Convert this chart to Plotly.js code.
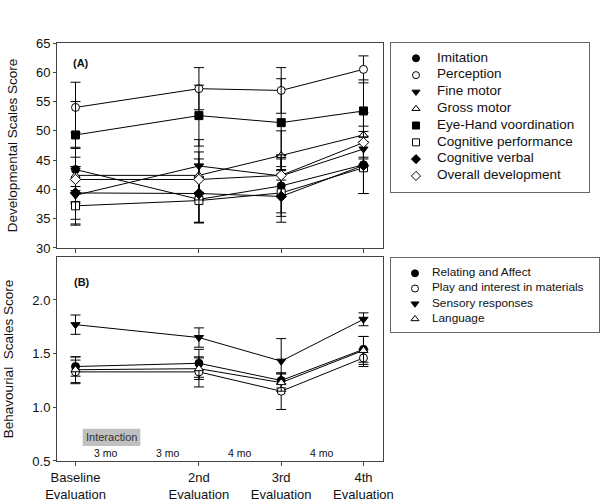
<!DOCTYPE html>
<html>
<head>
<meta charset="utf-8">
<script src="https://cdn.plot.ly/plotly-3.0.1.min.js"></script>
<style>
  html, body { margin: 0; padding: 0; background: #fff; }
  #chart { width: 600px; height: 502px; }
</style>
</head>
<body>
<div id="chart"></div>
<script>
// evaluation points, months since baseline
const months = [0, 6, 10, 14];
const evalLabels = ['Baseline<br>Evaluation', '2nd<br>Evaluation', '3rd<br>Evaluation', '4th<br>Evaluation'];

// (A) developmental scales, means and error
const devNames = ['Imitation', 'Perception', 'Fine motor', 'Gross motor',
  'Eye-Hand voordination', 'Cognitive performance', 'Cognitive verbal', 'Overall development'];
const imitation      = [43.4, 38.3, 40.6, 44.2];
const perception     = [54.0, 57.2, 56.9, 60.5];
const fineMotor      = [39.0, 44.0, 42.3, 46.9];
const grossMotor     = [42.4, 42.4, 45.8, 49.3];
const eyeHand        = [49.3, 52.6, 51.4, 53.4];
const cogPerformance = [37.2, 38.1, 39.4, 43.7];
const cogVerbal      = [39.4, 39.3, 38.8, 44.1];
const overallDev     = [41.7, 41.7, 42.4, 48.0];

const imitationErr      = [3.6, 3.9, 4.6, 4.9];
const perceptionErr     = [4.3, 3.6, 3.9, 2.3];
const fineMotorErr      = [4.9, 4.5, 3.5, 3.0];
const grossMotorErr     = [4.8, 4.0, 4.2, 3.8];
const eyeHandErr        = [5.7, 5.2, 7.5, 5.3];
const cogPerformanceErr = [3.3, 3.8, 4.0, 4.4];
const cogVerbalErr      = [4.5, 5.0, 4.4, 4.8];
const overallDevErr     = [3.8, 3.5, 3.5, 2.8];

// (B) behavioural scales
const behNames = ['Relating and Affect', 'Play and interest in materials', 'Sensory responses', 'Language'];
const relating = [1.38, 1.41, 1.25, 1.54];
const play     = [1.33, 1.33, 1.15, 1.46];
const sensory  = [1.77, 1.65, 1.43, 1.82];
const language = [1.35, 1.36, 1.23, 1.53];

const relatingErr = [0.09, 0.13, 0.07, 0.12];
const playErr     = [0.11, 0.14, 0.17, 0.08];
const sensoryErr  = [0.09, 0.09, 0.21, 0.06];
const languageErr = [0.12, 0.10, 0.08, 0.13];

// interval notes along the bottom axis
const intervalMid = [1.5, 4.5, 8, 12];
const intervalText = ['3 mo', '3 mo', '4 mo', '4 mo'];

const FONT = 'Liberation Sans, Arial, sans-serif';

// symbol + fill for each series
const devSymbols = ['circle', 'circle', 'triangle-down', 'triangle-up', 'square', 'square', 'diamond', 'diamond'];
const devFills   = ['black', 'white', 'black', 'white', 'black', 'white', 'black', 'white'];
const behSymbols = ['circle', 'circle', 'triangle-down', 'triangle-up'];
const behFills   = ['black', 'white', 'black', 'white'];

function series(y, err, sym, fill, xa, ya) {
  return {
    x: months, y: y,
    xaxis: xa, yaxis: ya,
    mode: 'lines+markers', type: 'scatter',
    line: {color: 'black', width: 1},
    marker: {symbol: sym, color: fill, size: 8, line: {color: 'black', width: 1}},
    error_y: {type: 'data', array: err, visible: true, color: 'black', thickness: 1, width: 5}
  };
}

// legend boxes are small hidden axes: one marker column + one text column
function legendTraces(names, syms, fills, xa, ya, symX, textX, fontSize) {
  const rows = names.map((_, i) => i);
  return [
    {x: rows.map(() => symX), y: rows, xaxis: xa, yaxis: ya, mode: 'markers', type: 'scatter',
     marker: {symbol: syms, color: fills, size: 7, line: {color: 'black', width: 1}}},
    {x: rows.map(() => textX), y: rows, xaxis: xa, yaxis: ya, mode: 'text', type: 'scatter',
     text: names, textposition: 'middle right',
     textfont: {family: FONT, size: fontSize, color: '#111'}}
  ];
}

const devY = [imitation, perception, fineMotor, grossMotor, eyeHand, cogPerformance, cogVerbal, overallDev];
const devE = [imitationErr, perceptionErr, fineMotorErr, grossMotorErr, eyeHandErr, cogPerformanceErr, cogVerbalErr, overallDevErr];
const behY = [relating, play, sensory, language];
const behE = [relatingErr, playErr, sensoryErr, languageErr];

let data = [];
devY.forEach((y, i) => data.push(series(y, devE[i], devSymbols[i], devFills[i], 'x2', 'y2')));
behY.forEach((y, i) => data.push(series(y, behE[i], behSymbols[i], behFills[i], 'x', 'y')));
data = data.concat(legendTraces(devNames, devSymbols, devFills, 'x3', 'y3', 25, 46, 13.5));
data = data.concat(legendTraces(behNames, behSymbols, behFills, 'x4', 'y4', 24, 41, 11.8));

const axisCommon = {
  showline: true, mirror: true, linecolor: '#444', linewidth: 1,
  showgrid: false, zeroline: false,
  ticks: 'outside', tickcolor: '#444', ticklen: 4,
  tickfont: {family: FONT, size: 13, color: '#111'}
};
const boxAxis = {
  showline: true, mirror: true, linecolor: '#666', linewidth: 1,
  showgrid: false, zeroline: false, ticks: '', showticklabels: false
};

let annotations = [
  {xref: 'x2 domain', yref: 'y2 domain', x: 0.042, y: 0.9, xanchor: 'left', yanchor: 'middle',
   text: '<b>(A)</b>', showarrow: false, font: {family: FONT, size: 11, color: '#111'}},
  {xref: 'x domain', yref: 'y domain', x: 0.045, y: 0.877, xanchor: 'left', yanchor: 'middle',
   text: '<b>(B)</b>', showarrow: false, font: {family: FONT, size: 11, color: '#111'}},
  {xref: 'x', yref: 'y', x: 1.75, y: 0.72, text: 'Interaction', showarrow: false,
   font: {family: FONT, size: 11, color: '#333'}}
];
intervalMid.forEach((m, i) => annotations.push({
  xref: 'x', yref: 'y', x: m, y: 0.5, yanchor: 'bottom', yshift: 0,
  text: intervalText[i], showarrow: false, font: {family: FONT, size: 10.5, color: '#111'}
}));

const mainDomain = [0, 0.6004];

const layout = {
  width: 600, height: 502,
  margin: {l: 57, r: 0, t: 43, b: 41},
  paper_bgcolor: 'white', plot_bgcolor: 'white',
  font: {family: FONT, color: '#111'},
  showlegend: false,
  xaxis: Object.assign({}, axisCommon, {
    domain: mainDomain, anchor: 'y', range: [-0.9, 14.95], tickvals: months, ticktext: evalLabels
  }),
  yaxis: Object.assign({}, axisCommon, {
    domain: [0, 0.488], anchor: 'x', range: [0.5, 2.4], tickvals: [0.5, 1.0, 1.5, 2.0], tickformat: '.1f',
    ticklen: 3,
    title: {text: 'Behavourial  Scales Score', font: {family: FONT, size: 13.5, color: '#111'}, standoff: 15}
  }),
  xaxis2: Object.assign({}, axisCommon, {
    domain: mainDomain, anchor: 'y2', range: [-0.9, 14.95], tickvals: months, showticklabels: false
  }),
  yaxis2: Object.assign({}, axisCommon, {
    domain: [0.5096, 1], anchor: 'x2', range: [30, 65], dtick: 5, ticklen: 3,
    title: {text: 'Developmental Scales Score', font: {family: FONT, size: 13.5, color: '#111'}, standoff: 15}
  }),
  xaxis3: Object.assign({}, boxAxis, {domain: [0.6151, 0.9797], anchor: 'y3', range: [0, 198]}),
  yaxis3: Object.assign({}, boxAxis, {domain: [0.6435, 1], anchor: 'x3', range: [7.958, -0.911]}),
  xaxis4: Object.assign({}, boxAxis, {domain: [0.6151, 0.9982], anchor: 'y4', range: [0, 208]}),
  yaxis4: Object.assign({}, boxAxis, {domain: [0.3086, 0.4856], anchor: 'x4', range: [3.862, -1.007]}),
  shapes: [
    {type: 'rect', xref: 'x', yref: 'y', x0: 0.35, x1: 3.15, y0: 0.64, y1: 0.80,
     fillcolor: '#c0c0c0', line: {width: 0}, layer: 'below'}
  ],
  annotations: annotations
};

Plotly.newPlot('chart', data, layout, {displayModeBar: false, staticPlot: true});
</script>
</body>
</html>
